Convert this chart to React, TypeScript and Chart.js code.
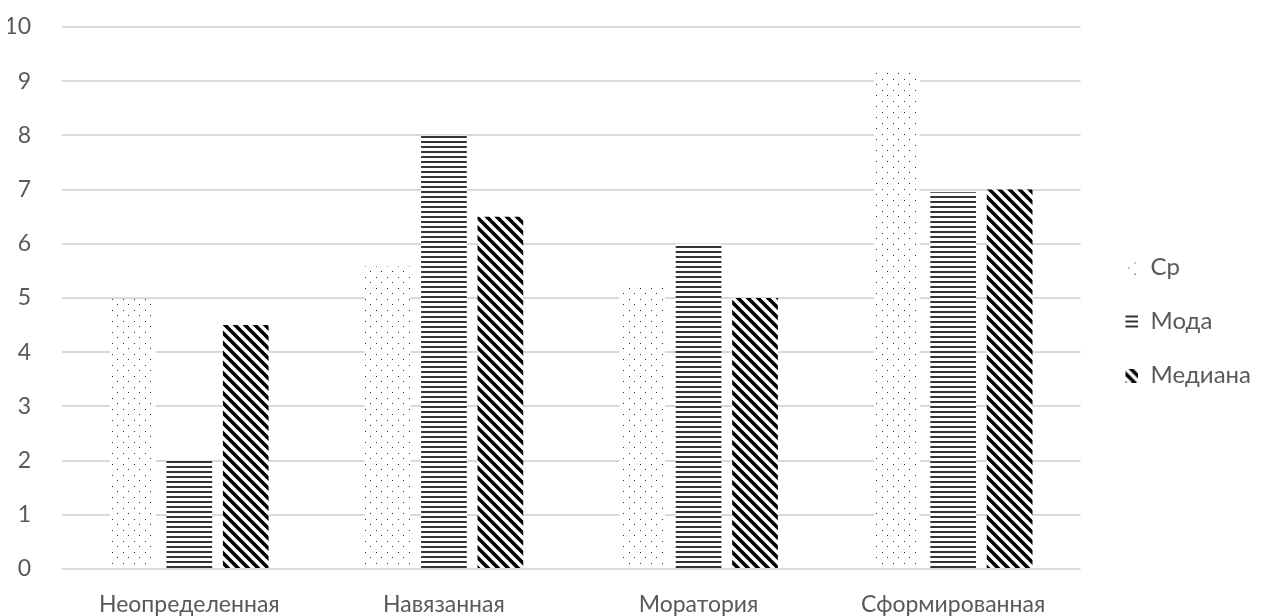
import React, { useEffect, useRef } from "react";
import { Chart, registerables } from "chart.js";

Chart.register(...registerables);

const categories = ["Неопределенная", "Навязанная", "Моратория", "Сформированная"];
const seriesNames = ["Ср", "Мода", "Медиана"];
const srValues = [4.98, 5.58, 5.2, 9.2];
const modaValues = [2, 8, 6, 6.95];
const medianaValues = [4.5, 6.5, 5, 7];
const yTicks = [0, 1, 2, 3, 4, 5, 6, 7, 8, 9, 10];

const FONT = "Lato, 'Open Sans', sans-serif";
const TEXT = "#595959";
const FS = 23;
const LEGEND_FS = 24;

function makeTile(w: number, h: number, draw: (c: CanvasRenderingContext2D) => void) {
  const cv = document.createElement("canvas");
  cv.width = w;
  cv.height = h;
  const c = cv.getContext("2d")!;
  c.fillStyle = "#ffffff";
  c.fillRect(0, 0, w, h);
  draw(c);
  return cv;
}

const dotsTile = () =>
  makeTile(11, 11, (c) => {
    c.fillStyle = "#2a2a2a";
    c.fillRect(2, 2, 1, 1);
    c.fillRect(7, 7, 1, 1);
  });

const hLinesTile = () =>
  makeTile(4, 5, (c) => {
    c.fillStyle = "#333333";
    c.fillRect(0, 1, 4, 2);
  });

const diagTile = () => {
  const s = 10;
  return makeTile(s, s, (c) => {
    c.strokeStyle = "#000000";
    c.lineWidth = 3.6;
    c.beginPath();
    for (let k = -1; k <= 1; k++) {
      c.moveTo(k * s - 1, -1);
      c.lineTo(k * s + s + 1, s + 1);
    }
    c.stroke();
  });
};

function legendSwatch(tile: HTMLCanvasElement) {
  const cv = document.createElement("canvas");
  cv.width = 28;
  cv.height = 14;
  const c = cv.getContext("2d")!;
  c.fillStyle = c.createPattern(tile, "repeat")!;
  c.fillRect(15, 0, 13, 14);
  return cv;
}

export default function App() {
  const ref = useRef<HTMLCanvasElement | null>(null);

  useEffect(() => {
    const canvas = ref.current!;
    const ctx = canvas.getContext("2d")!;
    const tiles = [dotsTile(), hLinesTile(), diagTile()];
    const fills = tiles.map((t) => ctx.createPattern(t, "repeat")!);
    const swatches = tiles.map((t) => legendSwatch(t));
    const values = [srValues, modaValues, medianaValues];

    const chart = new Chart(canvas, {
      type: "bar",
      data: {
        labels: categories,
        datasets: seriesNames.map((name, i) => ({
          label: name,
          data: values[i],
          backgroundColor: fills[i] as any,
          borderWidth: 0,
          categoryPercentage: 0.665,
          barPercentage: 0.81,
        })),
      },
      options: {
        animation: false,
        responsive: true,
        maintainAspectRatio: false,
        layout: { padding: { left: 8, top: 27, right: 0, bottom: 0 } },
        plugins: {
          tooltip: { enabled: false },
          legend: {
            position: "right",
            align: "center",
            labels: {
              usePointStyle: true,
              pointStyleWidth: 28,
              boxHeight: 14,
              padding: 30,
              color: TEXT,
              font: { family: FONT, size: LEGEND_FS },
              generateLabels: (ch: any) => {
                const items = (Chart as any).defaults.plugins.legend.labels.generateLabels(ch);
                return items.map((it: any, i: number) => ({
                  ...it,
                  pointStyle: swatches[i],
                  lineWidth: 0,
                }));
              },
            },
          },
        },
        scales: {
          x: {
            grid: { display: false, drawTicks: false },
            border: { display: false },
            ticks: {
              color: TEXT,
              font: { family: FONT, size: FS },
              padding: 22,
              maxRotation: 0,
            },
            afterFit: (axis: any) => {
              axis.height = 47;
              axis.paddingLeft = 0;
              axis.paddingRight = 0;
            },
          },
          y: {
            min: 0,
            max: 10,
            afterBuildTicks: (axis: any) => {
              axis.ticks = yTicks.map((v) => ({ value: v }));
            },
            grid: { color: "#d9d9d9", lineWidth: 2, drawTicks: false },
            border: { display: false },
            ticks: {
              color: TEXT,
              font: { family: FONT, size: FS },
              padding: 31,
            },
            afterFit: (axis: any) => {
              axis.width = 54;
              axis.paddingTop = 0;
              axis.paddingBottom = 0;
            },
          },
        },
      },
    });
    return () => chart.destroy();
  }, []);

  return (
    <div style={{ position: "fixed", left: 0, top: 0, width: 1261, height: 616, background: "#fff" }}>
      <canvas ref={ref} />
    </div>
  );
}
